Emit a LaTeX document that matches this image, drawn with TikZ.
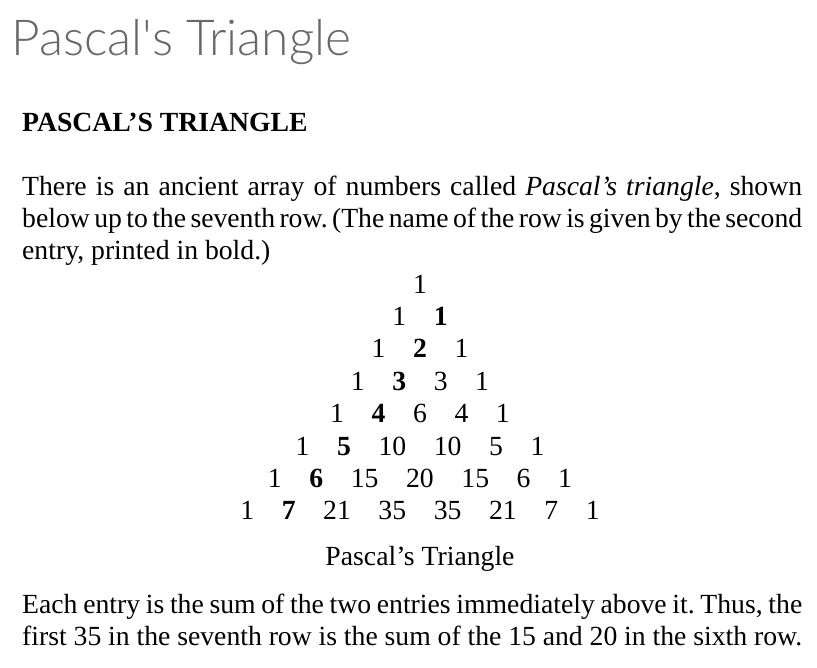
\documentclass[tikz,border=0pt]{standalone}
\usepackage{fontspec}
\setmainfont{Liberation Serif}
\newfontfamily\latolight{Lato Light}[Ligatures=TeXOff]
\definecolor{titlegray}{RGB}{105,105,105}
\newcommand{\rowgap}{\hspace{27.6pt}}

\begin{document}
\begin{tikzpicture}[x=1pt,y=-1pt,
  every node/.style={inner sep=0pt},
  font=\fontsize{27.7}{32}\selectfont,
  para/.style={anchor=base west, text width=780pt, align=justify,
    execute at begin node={\frenchspacing\spaceskip=0.25em plus 0.2em minus 0.12em\relax}}]
  \useasboundingbox (0,0) rectangle (817,667);
  % page title
  \node[anchor=base west, text=titlegray, font=\latolight\fontsize{49.6}{58}\selectfont] (title) at (11,55.5) {Pascal's Triangle};
  \node[anchor=base west] (heading) at (22,131) {\textbf{PASCAL’S TRIANGLE}};
  \node[para] (intro) at (22,195) {There is an ancient array of numbers called \textit{Pascal’s triangle}, shown\linebreak below up to the seventh row. (The name of the row is given by the second\linebreak entry, printed in bold.)};
  % the triangle, one node per row
  \foreach \n/\entries in {1/{1},
      2/{1\rowgap\textbf{1}},
      3/{1\rowgap\textbf{2}\rowgap1},
      4/{1\rowgap\textbf{3}\rowgap3\rowgap1},
      5/{1\rowgap\textbf{4}\rowgap6\rowgap4\rowgap1},
      6/{1\rowgap\textbf{5}\rowgap10\rowgap10\rowgap5\rowgap1},
      7/{1\rowgap\textbf{6}\rowgap15\rowgap20\rowgap15\rowgap6\rowgap1},
      8/{1\rowgap\textbf{7}\rowgap21\rowgap35\rowgap35\rowgap21\rowgap7\rowgap1}}
    \node[anchor=base] (row\n) at (420,260.6+32.4*\n) {\entries};
  \node[anchor=base] (caption) at (420,565) {Pascal’s Triangle};
  \node[para] (sumnote) at (22,613) {Each entry is the sum of the two entries immediately above it. Thus, the\linebreak first 35 in the seventh row is the sum of the 15 and 20 in the sixth row.};
\end{tikzpicture}
\end{document}
